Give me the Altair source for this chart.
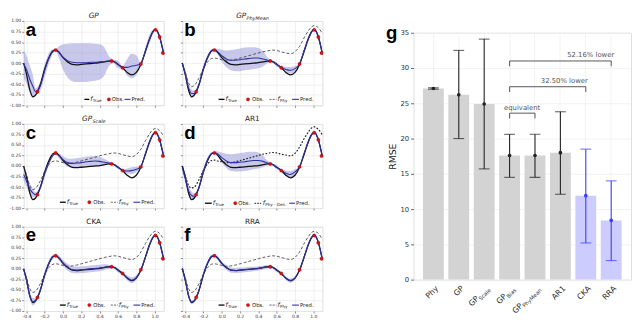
import altair as alt
import pandas as pd

# ---------------- data: left panels ----------------
X = [-0.43, -0.40, -0.36, -0.33, -0.30, -0.25, -0.20, -0.15, -0.11, -0.08,
     -0.05, 0.00, 0.05, 0.10, 0.15, 0.20, 0.25, 0.30, 0.35, 0.40,
     0.45, 0.50, 0.55, 0.60, 0.65, 0.70, 0.75, 0.80, 0.85, 0.90,
     0.95, 0.98, 1.01, 1.05, 1.10]
F_TRUE = [0.00, -0.25, -0.66, -0.80, -0.76, -0.52, -0.14, 0.15, 0.29, 0.31,
          0.27, 0.13, 0.03, -0.03, -0.04, -0.03, -0.02, -0.01, 0.00, 0.01,
          0.03, 0.05, 0.04, -0.03, -0.11, -0.22, -0.28, -0.22, -0.03, 0.28,
          0.60, 0.74, 0.80, 0.66, 0.21]
F_PHY = [-0.02, -0.20, -0.48, -0.56, -0.53, -0.36, -0.13, 0.04, 0.11, 0.12,
         0.11, 0.08, 0.06, 0.07, 0.09, 0.12, 0.15, 0.18, 0.21, 0.24,
         0.27, 0.29, 0.31, 0.30, 0.27, 0.24, 0.22, 0.27, 0.40, 0.60,
         0.78, 0.86, 0.89, 0.85, 0.70]
F_GEN = [-0.05, -0.22, -0.47, -0.52, -0.50, -0.33, -0.10, 0.06, 0.13, 0.14,
         0.12, 0.10, 0.08, 0.08, 0.10, 0.13, 0.16, 0.19, 0.22, 0.25,
         0.28, 0.30, 0.32, 0.31, 0.28, 0.26, 0.24, 0.30, 0.45, 0.65,
         0.82, 0.90, 0.93, 0.88, 0.74]
PRED_A = [-0.02, -0.15, -0.40, -0.55, -0.68, -0.55, -0.17, 0.14, 0.28, 0.31,
          0.27, 0.14, 0.06, 0.02, 0.01, 0.01, 0.01, 0.02, 0.02, 0.03,
          0.04, 0.05, 0.04, -0.03, -0.10, -0.10, -0.07, -0.05, -0.02, 0.30,
          0.60, 0.74, 0.80, 0.64, 0.22]
HW_A = [0.33, 0.33, 0.32, 0.27, 0.08, 0.12, 0.15, 0.12, 0.05, 0.02,
        0.12, 0.30, 0.40, 0.45, 0.46, 0.46, 0.46, 0.45, 0.44, 0.42,
        0.34, 0.12, 0.04, 0.09, 0.03, 0.20, 0.29, 0.24, 0.03, 0.08,
        0.10, 0.06, 0.02, 0.03, 0.06]
PRED_B = [-0.02, -0.25, -0.60, -0.72, -0.72, -0.52, -0.13, 0.16, 0.30, 0.32,
          0.28, 0.18, 0.10, 0.07, 0.07, 0.08, 0.10, 0.11, 0.12, 0.12,
          0.10, 0.07, 0.04, -0.03, -0.10, -0.15, -0.17, -0.13, -0.02, 0.30,
          0.60, 0.74, 0.80, 0.65, 0.22]
HW_B = [0.05, 0.08, 0.10, 0.10, 0.06, 0.06, 0.08, 0.06, 0.03, 0.02,
        0.06, 0.14, 0.20, 0.24, 0.26, 0.27, 0.27, 0.27, 0.26, 0.24,
        0.18, 0.07, 0.02, 0.05, 0.02, 0.06, 0.08, 0.06, 0.02, 0.05,
        0.06, 0.04, 0.02, 0.02, 0.04]
PRED_C = [-0.20, -0.35, -0.55, -0.64, -0.68, -0.52, -0.18, 0.10, 0.25, 0.30,
          0.25, 0.15, 0.08, 0.06, 0.07, 0.08, 0.10, 0.11, 0.12, 0.11,
          0.09, 0.07, 0.04, -0.03, -0.10, -0.12, -0.11, -0.08, -0.02, 0.30,
          0.60, 0.74, 0.80, 0.64, 0.22]
HW_C = [0.15, 0.14, 0.12, 0.10, 0.05, 0.06, 0.08, 0.06, 0.03, 0.02,
        0.05, 0.08, 0.10, 0.11, 0.12, 0.12, 0.12, 0.12, 0.12, 0.11,
        0.08, 0.04, 0.02, 0.04, 0.02, 0.06, 0.08, 0.06, 0.02, 0.05,
        0.06, 0.04, 0.02, 0.03, 0.05]
PRED_D = [-0.05, -0.28, -0.60, -0.70, -0.72, -0.52, -0.13, 0.17, 0.30, 0.32,
          0.29, 0.20, 0.12, 0.08, 0.08, 0.09, 0.10, 0.12, 0.13, 0.13,
          0.11, 0.07, 0.04, -0.03, -0.10, -0.17, -0.20, -0.14, -0.02, 0.30,
          0.60, 0.74, 0.80, 0.65, 0.22]
HW_D = [0.08, 0.09, 0.10, 0.10, 0.06, 0.06, 0.08, 0.06, 0.03, 0.02,
        0.06, 0.12, 0.17, 0.20, 0.21, 0.22, 0.22, 0.22, 0.21, 0.19,
        0.14, 0.06, 0.02, 0.05, 0.02, 0.06, 0.08, 0.06, 0.02, 0.05,
        0.06, 0.04, 0.02, 0.02, 0.04]
PRED_E = [0.00, -0.26, -0.66, -0.78, -0.75, -0.52, -0.14, 0.15, 0.29, 0.31,
          0.27, 0.14, 0.04, -0.02, -0.03, -0.02, -0.01, 0.00, 0.01, 0.02,
          0.04, 0.05, 0.04, -0.03, -0.11, -0.21, -0.27, -0.21, -0.03, 0.28,
          0.60, 0.74, 0.80, 0.65, 0.22]
HW_E = [0.06, 0.08, 0.09, 0.09, 0.06, 0.05, 0.07, 0.07, 0.05, 0.03,
        0.05, 0.07, 0.08, 0.08, 0.08, 0.08, 0.08, 0.08, 0.08, 0.08,
        0.07, 0.05, 0.03, 0.05, 0.03, 0.06, 0.07, 0.06, 0.03, 0.05,
        0.06, 0.04, 0.03, 0.03, 0.04]
PRED_F = [0.02, -0.25, -0.65, -0.79, -0.76, -0.52, -0.13, 0.16, 0.30, 0.31,
          0.27, 0.13, 0.03, -0.03, -0.04, -0.03, -0.02, -0.01, 0.00, 0.01,
          0.03, 0.05, 0.04, -0.03, -0.11, -0.22, -0.28, -0.22, -0.03, 0.28,
          0.60, 0.74, 0.80, 0.66, 0.21]
HW_F = [0.08, 0.07, 0.06, 0.05, 0.04, 0.04, 0.05, 0.05, 0.04, 0.03,
        0.04, 0.05, 0.06, 0.06, 0.06, 0.06, 0.06, 0.06, 0.05, 0.05,
        0.05, 0.04, 0.03, 0.04, 0.03, 0.04, 0.05, 0.04, 0.03, 0.04,
        0.04, 0.03, 0.02, 0.02, 0.03]
OBS_X = [-0.28, -0.08, 0.53, 0.65, 0.85, 1.01, 1.055, 1.09]
OBS_Y = [-0.68, 0.31, 0.05, -0.11, -0.02, 0.79, 0.62, 0.24]
X_TICKS = [-0.4, -0.2, 0.0, 0.2, 0.4, 0.6, 0.8, 1.0]
Y_TICKS = [-1.0, -0.75, -0.5, -0.25, 0.0, 0.25, 0.5, 0.75, 1.0]

# ---------------- data: bar chart ----------------
MODELS = ["Phy", "GP", "GP_Scale", "GP_Bias", "GP_PhyMean", "AR1", "CKA", "RRA"]
LABEL_MAIN = ["Phy", "GP", "GP", "GP", "GP", "AR1", "CKA", "RRA"]
LABEL_SUB = ["", "", "Scale", "Bias", "PhyMean", "", "", ""]
GROUP = ["base", "base", "base", "base", "base", "base", "ours", "ours"]
RMSE = [27.1, 26.2, 24.9, 17.6, 17.6, 18.0, 11.9, 8.4]
RMSE_LO = [27.0, 20.0, 15.7, 14.5, 14.5, 12.1, 5.2, 2.7]
RMSE_HI = [27.2, 32.5, 34.1, 20.6, 20.6, 23.8, 18.5, 14.0]
RMSE_TICKS = [0, 5, 10, 15, 20, 25, 30, 35]
BR_FROM = ["GP_Bias", "GP_Bias", "GP_Bias"]
BR_TO = ["GP_PhyMean", "CKA", "RRA"]
BR_Y = [23.6, 27.35, 31.0]
BR_LABEL = ["equivalent", "32.50% lower", "52.16% lower"]
BR_LABEL_AT = ["GP_Bias", "AR1", "CKA"]
BR_LABEL_Y = [24.35, 28.2, 31.85]
BR_DROP = 0.75

FONT = "DejaVu Sans"
BLUE = "#3030a0"
BAND = "#9b9bd9"
RED = "#dd1111"
W, H = 143, 86
TY = -5
one = pd.DataFrame({"k": [0]})


def vtext(txt, x, y, size, **kw):
    kw.setdefault("font", FONT)
    return alt.Chart(one).mark_text(text=txt, fontSize=size, **kw).encode(
        x=alt.value(x), y=alt.value(y))


def vrule(x0, x1, y, **kw):
    return alt.Chart(one).mark_rule(**kw).encode(
        x=alt.value(x0), x2=alt.value(x1), y=alt.value(y))


def vdot(x, y):
    return alt.Chart(one).mark_point(filled=True, color=RED, size=12, opacity=1,
                                     stroke="#700", strokeWidth=0.3).encode(
        x=alt.value(x), y=alt.value(y))


def flabel(x, y, sub):
    return [vtext("f", x, y, 6.5, align="left", baseline="middle", fontStyle="italic", color="#222"),
            vtext(sub, x + 2.6, y + 1.6, 4.2, align="left", baseline="middle", color="#222")]


def legend(kind):
    y = H - 6
    if kind == "a":
        return ([vrule(62, 67, y, color="black", strokeWidth=1.3)] + flabel(68, y, "True") +
                [vdot(87, y), vtext("Obs.", 90, y, 5.5, align="left", baseline="middle", color="#222"),
                 vrule(103, 109, y, color=BLUE, strokeWidth=1.1),
                 vtext("Pred.", 110, y, 5.5, align="left", baseline="middle", color="#222")])
    if kind == "d":
        y = H - 5
        return ([vrule(23, 30, y, color="black", strokeWidth=1.3)] + flabel(31, y, "True") +
                [vdot(54, y), vtext("Obs.", 57, y, 5.5, align="left", baseline="middle", color="#222"),
                 vrule(74, 80, y, color="#222", strokeWidth=1.2, strokeDash=[0.8, 2], strokeCap="round")] +
                flabel(82, y, "Phy - Gen.") +
                [vrule(109, 115, y, color=BLUE, strokeWidth=1.1),
                 vtext("Pred.", 116, y, 5.5, align="left", baseline="middle", color="#222")])
    return ([vrule(37, 43, y, color="black", strokeWidth=1.3)] + flabel(44, y, "True") +
            [vdot(67, y), vtext("Obs.", 71, y, 5.5, align="left", baseline="middle", color="#222"),
             vrule(89, 96, y, color="#333", strokeWidth=0.8, strokeDash=[2, 1.2])] +
            flabel(97, y, "Phy") +
            [vrule(112, 119, y, color=BLUE, strokeWidth=1.1),
             vtext("Pred.", 120, y, 5.5, align="left", baseline="middle", color="#222")])


def title_marks(main, sub, italic, wsub):
    style = "italic" if italic else "normal"
    if sub:
        wmain = 10.3
        j = W / 2 - (wmain + wsub) / 2 + wmain
        return [vtext(main, j, TY, 7.5, align="right", baseline="middle", fontStyle=style, color="#222"),
                vtext(sub, j + 0.3, TY + 2, 5, align="left", baseline="middle", fontStyle=style, color="#222")]
    return [vtext(main, W / 2, TY, 7.5, align="center", baseline="middle", fontStyle=style, color="#222")]


def panel(letter, main, sub, wsub, italic, pred, hw, phy, phykind, legkind, show_y, show_x):
    df = pd.DataFrame({"x": X, "true": F_TRUE, "pred": pred, "hw": hw})
    df["lo"] = df["pred"] - df["hw"]
    df["hi"] = df["pred"] + df["hw"]
    if phy is not None:
        df["phy"] = phy
    obs = pd.DataFrame({"x": OBS_X, "y": OBS_Y})
    xs = alt.Scale(domain=[-0.43, 1.1], nice=False, zero=False)
    ys = alt.Scale(domain=[-1, 1], nice=False, zero=False)
    common = dict(grid=True, gridColor="#e6e6e6", gridWidth=0.6, ticks=True, tickSize=2,
                  tickColor="#888", domain=False, labelFontSize=4.6, labelPadding=1,
                  labelColor="#333", labelFont=FONT, labelOverlap=False, labelFlush=False,
                  labelBound=False, tickCount=30)
    xa = alt.Axis(values=X_TICKS, labels=show_x,
                  labelExpr="replace(format(datum.value, '.1f'), '\u2212', '-')", **common)
    ya = alt.Axis(values=Y_TICKS, labels=show_y,
                  labelExpr="replace(format(datum.value, '.2f'), '\u2212', '-')", **common)
    ex = alt.X("x:Q", scale=xs, axis=xa, title=None)
    band = alt.Chart(df).mark_area(color=BAND, opacity=0.55, interpolate="monotone").encode(
        x=ex, y=alt.Y("lo:Q", scale=ys, axis=ya, title=None), y2="hi:Q")
    layers = [band]
    layers.append(alt.Chart(df).mark_line(color="#111", strokeWidth=1.3, interpolate="monotone").encode(
        x="x:Q", y="true:Q"))
    if phy is not None:
        if phykind == "dot":
            kw = dict(color="#222", strokeWidth=1.2, strokeDash=[0.8, 2.6], strokeCap="round")
        else:
            kw = dict(color="#333", strokeWidth=0.8, strokeDash=[3, 2])
        layers.append(alt.Chart(df).mark_line(interpolate="monotone", **kw).encode(x="x:Q", y="phy:Q"))
    layers.append(alt.Chart(df).mark_line(color=BLUE, strokeWidth=1.1, interpolate="monotone").encode(
        x="x:Q", y="pred:Q"))
    layers.append(alt.Chart(obs).mark_point(filled=True, color=RED, size=12, opacity=1,
                                            stroke="#700", strokeWidth=0.3).encode(x="x:Q", y="y:Q"))
    layers += legend(legkind)
    layers += title_marks(main, sub, italic, wsub)
    layers.append(vtext(letter, 2, 15, 19, align="left", baseline="alphabetic",
                        fontWeight="bold", color="black", font="Liberation Sans"))
    return alt.layer(*layers).properties(width=W, height=H)


pa = panel("a", "GP", "", 0, True, PRED_A, HW_A, None, "", "a", True, False)
pb = panel("b", "GP", "PhyMean", 22.8, True, PRED_B, HW_B, F_PHY, "dash", "4", False, False)
pc = panel("c", "GP", "Scale", 13.5, True, PRED_C, HW_C, F_PHY, "dash", "4", True, False)
pd_ = panel("d", "AR1", "", 0, False, PRED_D, HW_D, F_GEN, "dot", "d", False, False)
pe = panel("e", "CKA", "", 0, False, PRED_E, HW_E, F_PHY, "dash", "4", True, True)
pf = panel("f", "RRA", "", 0, False, PRED_F, HW_F, F_PHY, "dash", "4", False, True)

grid = alt.vconcat(alt.hconcat(pa, pb, spacing=11),
                   alt.hconcat(pc, pd_, spacing=11),
                   alt.hconcat(pe, pf, spacing=11), spacing=6)

# ---------------- bar chart ----------------
WB, HB = 222, 252
bdf = pd.DataFrame({"model": MODELS, "rmse": RMSE, "lo": RMSE_LO, "hi": RMSE_HI, "grp": GROUP,
                    "main": LABEL_MAIN, "sub": LABEL_SUB})
brd = pd.DataFrame({"start": BR_FROM, "end": BR_TO, "y": BR_Y})
brd["ylow"] = brd["y"] - BR_DROP
bld = pd.DataFrame({"at": BR_LABEL_AT, "label": BR_LABEL, "y": BR_LABEL_Y})

xsb = alt.Scale(domain=MODELS, paddingInner=0.18, paddingOuter=0.37)
ysb = alt.Scale(domain=[0, 35], nice=False, zero=True)
xab = alt.Axis(labels=False, ticks=False, grid=True, gridColor="#eeeeee", gridWidth=0.8,
               domain=False, bandPosition=0.5)
yab = alt.Axis(values=RMSE_TICKS, tickCount=30, grid=True, gridColor="#eeeeee", gridWidth=0.8,
               domain=False, tickSize=3, tickColor="#666", labelFontSize=7, labelColor="#333",
               labelFont=FONT, labelPadding=2, labelOverlap=False, labelFlush=False,
               labelBound=False, titleFont=FONT, titleFontSize=9.5,
               titleFontWeight="normal", titleColor="#222", titlePadding=2)
XB = alt.X("model:N", scale=xsb, axis=xab, sort=MODELS, title=None)

base_c = alt.Chart(bdf)
blayers = [
    base_c.transform_filter(alt.datum.grp == "base").mark_bar(color="#d3d3d3").encode(
        x=XB, y=alt.Y("rmse:Q", scale=ysb, axis=yab, title="RMSE")),
    base_c.transform_filter(alt.datum.grp == "ours").mark_bar(color="#ccccff").encode(
        x="model:N", y="rmse:Q"),
]
for grp, col in [("base", "#222222"), ("ours", "#3b3bff")]:
    sub = base_c.transform_filter(alt.datum.grp == grp)
    blayers.append(sub.mark_rule(color=col, strokeWidth=1.1).encode(x="model:N", y="lo:Q", y2="hi:Q"))
    blayers.append(sub.mark_tick(color=col, size=11, thickness=1.1).encode(x="model:N", y="lo:Q"))
    blayers.append(sub.mark_tick(color=col, size=11, thickness=1.1).encode(x="model:N", y="hi:Q"))
    blayers.append(sub.mark_point(filled=True, color=col, size=14, opacity=1).encode(x="model:N", y="rmse:Q"))

BRC = "#555555"
blayers.append(alt.Chart(brd).mark_rule(color=BRC, strokeWidth=1).encode(x="start:N", x2="end:N", y="y:Q"))
blayers.append(alt.Chart(brd).mark_rule(color=BRC, strokeWidth=1).encode(x="start:N", y="y:Q", y2="ylow:Q"))
blayers.append(alt.Chart(brd).mark_rule(color=BRC, strokeWidth=1).encode(x="end:N", y="y:Q", y2="ylow:Q"))
for lab, dx in zip(BR_LABEL, [12.8, 4, 5]):
    blayers.append(alt.Chart(bld).transform_filter(alt.datum.label == lab).mark_text(
        fontSize=7, font=FONT, color=BRC, align="center", baseline="middle", dx=dx).encode(
        x="at:N", y="y:Q", text="label:N"))

# rotated category labels with subscripts
LBL_Y = HB + 6
blayers.append(base_c.transform_filter(alt.datum.sub == "").mark_text(
    angle=315, align="right", baseline="middle", fontSize=8, font=FONT, color="#333",
    dx=1.5, dy=4.5).encode(x="model:N", y=alt.value(LBL_Y), text="main:N"))
for m, wsub in [("GP_Scale", 14.8), ("GP_Bias", 11.5), ("GP_PhyMean", 25.0)]:
    s = base_c.transform_filter(alt.datum.model == m)
    blayers.append(s.mark_text(angle=315, align="right", baseline="middle", fontSize=8, font=FONT,
                               color="#333", dx=1.5 - wsub, dy=4.5).encode(
        x="model:N", y=alt.value(LBL_Y), text="main:N"))
    blayers.append(s.mark_text(angle=315, align="right", baseline="middle", fontSize=5.5, font=FONT,
                               color="#333", dx=1.5, dy=6.8).encode(
        x="model:N", y=alt.value(LBL_Y), text="sub:N"))

blayers.append(vtext("g", -28, 6, 19, align="left", baseline="alphabetic", fontWeight="bold",
                     color="black", font="Liberation Sans"))

gchart = alt.layer(*blayers).properties(width=WB, height=HB)

spacer = alt.Chart(one).mark_rule(strokeOpacity=0).encode(
    x=alt.value(0), x2=alt.value(1), y=alt.value(0)).properties(
    width=2, height=1, view=alt.ViewBackground(stroke="transparent"))

right = alt.vconcat(spacer, gchart, spacing=0)

chart = alt.hconcat(grid, right, spacing=60).properties(
    padding={"left": 0, "top": 0, "right": 0, "bottom": 0}
).configure_view(stroke="#666666", strokeWidth=0.8).configure(background="white")

chart.save("out.html", embed_options={"renderer": "svg", "actions": False})
